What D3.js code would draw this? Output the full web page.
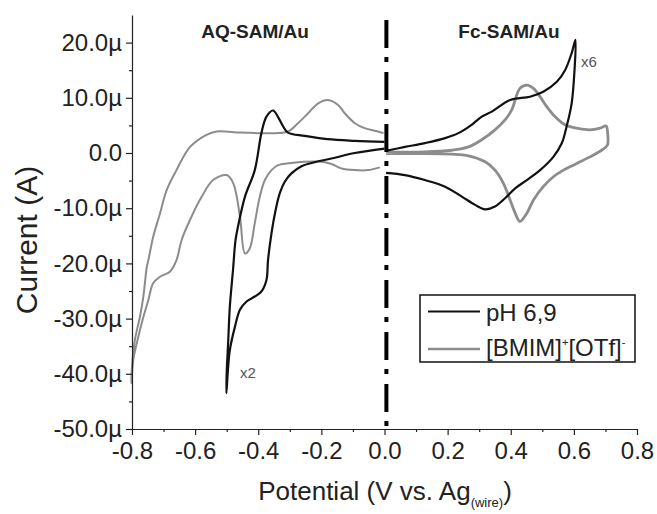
<!DOCTYPE html>
<html>
<head>
<meta charset="utf-8">
<script src="https://cdn.jsdelivr.net/npm/d3@7"></script>
<style>
  body { margin: 0; background: #fff; }
  text { font-family: "Liberation Sans", Arial, sans-serif; }
</style>
</head>
<body>
<svg id="chart" width="657" height="514"></svg>
<script>
// Cyclic voltammograms: potential (V vs. Ag wire), current (µA)
// AQ-SAM/Au in pH 6.9 buffer (scaled x2)
const aqBuffer = [
  [0.0, 0.8], [-0.094, 0.0], [-0.168, -1.0], [-0.231, -1.8], [-0.263, -2.4],
  [-0.295, -3.7], [-0.316, -5.2], [-0.332, -7.3], [-0.347, -10.9], [-0.358, -14.5],
  [-0.369, -19.4], [-0.374, -23.0], [-0.390, -25.1], [-0.411, -26.0], [-0.437, -26.9],
  [-0.458, -28.4], [-0.474, -31.5], [-0.490, -35.7], [-0.496, -39.3], [-0.501, -43.5],
  [-0.500, -39.9], [-0.495, -33.9], [-0.490, -27.8], [-0.480, -21.2], [-0.472, -15.8],
  [-0.463, -13.0], [-0.442, -7.9], [-0.411, -3.1], [-0.390, 3.6], [-0.374, 6.6],
  [-0.353, 7.7], [-0.338, 6.6], [-0.321, 4.8], [-0.306, 3.7], [-0.253, 3.1],
  [-0.180, 2.5], [-0.094, 2.2], [0.0, 2.0]
];
// AQ-SAM/Au in [BMIM]+[OTf]-
const aqIonic = [
  [-0.003, 3.6], [-0.021, 3.9], [-0.063, 4.5], [-0.094, 5.4], [-0.126, 7.2],
  [-0.147, 8.7], [-0.179, 9.6], [-0.210, 9.0], [-0.242, 7.2], [-0.274, 5.4],
  [-0.305, 3.9], [-0.347, 3.6], [-0.400, 3.6], [-0.458, 3.7], [-0.532, 3.9],
  [-0.564, 3.3], [-0.616, 1.1], [-0.659, -3.1], [-0.690, -6.7], [-0.711, -10.9],
  [-0.733, -15.2], [-0.748, -19.4], [-0.753, -20.6], [-0.764, -26.0], [-0.775, -29.7],
  [-0.791, -33.9], [-0.800, -38.7], [-0.802, -41.7],
  [-0.796, -37.5], [-0.780, -33.3], [-0.764, -29.7], [-0.748, -26.6], [-0.733, -23.6],
  [-0.711, -22.4], [-0.680, -21.5], [-0.659, -19.4], [-0.643, -15.8], [-0.616, -12.1],
  [-0.579, -7.9], [-0.543, -4.9], [-0.500, -4.0], [-0.479, -5.5], [-0.458, -11.5],
  [-0.442, -18.2], [-0.427, -17.3], [-0.411, -12.7], [-0.395, -7.9], [-0.379, -4.9],
  [-0.358, -3.1], [-0.337, -2.2], [-0.295, -1.8], [-0.200, -1.6], [-0.168, -2.0],
  [-0.136, -2.8], [-0.094, -3.1], [-0.052, -3.1], [-0.015, -2.6]
];
// Fc-SAM/Au in pH 6.9 buffer (scaled x6)
const fcBuffer = [
  [0.005, -3.6], [0.065, -4.0], [0.128, -4.9], [0.192, -6.1], [0.245, -7.9],
  [0.287, -9.4], [0.319, -10.2], [0.350, -9.7], [0.382, -8.2], [0.414, -6.4],
  [0.451, -4.9], [0.493, -3.1], [0.535, -0.7], [0.562, 1.8], [0.577, 4.8],
  [0.593, 9.0], [0.602, 15.0], [0.605, 20.5],
  [0.593, 18.1], [0.572, 15.0], [0.546, 12.9], [0.503, 11.1], [0.461, 10.2],
  [0.398, 9.6], [0.340, 7.5], [0.308, 6.6], [0.276, 5.1], [0.234, 3.6],
  [0.192, 2.7], [0.128, 1.8], [0.065, 1.1], [0.005, 0.4]
];
// Fc-SAM/Au in [BMIM]+[OTf]-
const fcIonic = [
  [0.005, 0.2], [0.128, 0.2], [0.213, 0.5], [0.266, 1.1], [0.308, 2.4],
  [0.350, 4.2], [0.382, 6.0], [0.403, 7.8], [0.429, 11.7], [0.451, 12.3],
  [0.472, 11.7], [0.493, 10.2], [0.514, 8.4], [0.540, 6.6], [0.572, 5.1],
  [0.609, 4.5], [0.651, 4.2], [0.683, 4.5], [0.702, 4.9],
  [0.707, 3.6], [0.706, 1.4], [0.688, 0.5], [0.651, -0.7], [0.609, -1.9],
  [0.567, -3.1], [0.535, -4.3], [0.503, -6.1], [0.472, -8.5], [0.451, -10.9],
  [0.429, -12.4], [0.414, -10.9], [0.398, -8.5], [0.376, -5.4], [0.350, -3.1],
  [0.319, -1.6], [0.266, -0.5], [0.213, -0.2], [0.107, -0.1], [0.005, -0.1]
];

const xTicks = [-0.8, -0.6, -0.4, -0.2, 0.0, 0.2, 0.4, 0.6, 0.8];
const xMinor = [-0.7, -0.5, -0.3, -0.1, 0.1, 0.3, 0.5, 0.7];
const yTicks = [-50, -40, -30, -20, -10, 0, 10, 20];
const yMinor = [-45, -35, -25, -15, -5, 5, 15];
const seriesNames = ["pH 6,9", "[BMIM]+[OTf]-"];
const panelTitles = ["AQ-SAM/Au", "Fc-SAM/Au"];
const scaleNotes = ["x2", "x6"];

const BLACK = "#111";
const GRAY = "#8c8c8c";

const svg = d3.select("#chart");
const x = d3.scaleLinear().domain([-0.8, 0.8]).range([132, 637]);
const y = d3.scaleLinear().domain([-50, 25]).range([429, 15]);

const line = d3.line()
  .x(d => x(d[0]))
  .y(d => y(d[1]))
  .curve(d3.curveCatmullRom.alpha(0.5));

// Curves
svg.append("path").datum(aqIonic).attr("d", line)
  .attr("fill", "none").attr("stroke", GRAY).attr("stroke-width", 2);
svg.append("path").datum(fcIonic).attr("d", line)
  .attr("fill", "none").attr("stroke", GRAY).attr("stroke-width", 2.8);
svg.append("path").datum(aqBuffer).attr("d", line)
  .attr("fill", "none").attr("stroke", BLACK).attr("stroke-width", 2.2);
svg.append("path").datum(fcBuffer).attr("d", line)
  .attr("fill", "none").attr("stroke", BLACK).attr("stroke-width", 2.2);

// Divider between the two monolayers
svg.append("line")
  .attr("x1", x(0.006)).attr("x2", x(0.006))
  .attr("y1", 20).attr("y2", y(-50))
  .attr("stroke", "#000").attr("stroke-width", 4)
  .attr("stroke-dasharray", "28,9,5,10");

// Axes
const fontAxis = 24;
svg.append("g").attr("transform", `translate(0,${y(-50)})`)
  .call(d3.axisBottom(x).tickValues(xTicks).tickFormat(d => d.toFixed(1))
    .tickSize(6).tickSizeOuter(0).tickPadding(7));
svg.append("g").attr("transform", `translate(0,${y(-50)})`)
  .call(d3.axisBottom(x).tickValues(xMinor).tickFormat("").tickSize(3).tickSizeOuter(0))
  .select(".domain").remove();

svg.append("g").attr("transform", `translate(${x(-0.8)},0)`)
  .call(d3.axisLeft(y).tickValues(yTicks)
    .tickFormat(d => d === 0 ? "0.0" : d.toFixed(1) + "µ")
    .tickSize(6).tickSizeOuter(0).tickPadding(4));
svg.append("g").attr("transform", `translate(${x(-0.8)},0)`)
  .call(d3.axisLeft(y).tickValues(yMinor).tickFormat("").tickSize(3).tickSizeOuter(0))
  .select(".domain").remove();

svg.selectAll(".domain").attr("stroke", "#222").attr("stroke-width", 1.2);
svg.selectAll(".tick line").attr("stroke", "#222").attr("stroke-width", 1.2);
svg.selectAll(".tick text")
  .attr("font-family", "Liberation Sans, Arial, sans-serif")
  .attr("font-size", fontAxis).attr("fill", "#222");

// Axis titles
const xt = svg.append("text")
  .attr("x", 385).attr("y", 500).attr("text-anchor", "middle")
  .attr("font-size", 26).attr("fill", "#222");
xt.append("tspan").text("Potential (V vs. Ag");
xt.append("tspan").attr("dy", 7).attr("font-size", 13).text("(wire)");
xt.append("tspan").attr("dy", -7).text(")");

svg.append("text")
  .attr("transform", "translate(37,240) rotate(-90)")
  .attr("text-anchor", "middle")
  .attr("font-size", 30).attr("fill", "#222")
  .text("Current (A)");

// Panel titles
svg.append("text").attr("x", 255).attr("y", 38).attr("text-anchor", "middle")
  .attr("font-size", 19).attr("font-weight", "bold").attr("fill", "#222")
  .text(panelTitles[0]);
svg.append("text").attr("x", 509).attr("y", 38).attr("text-anchor", "middle")
  .attr("font-size", 19).attr("font-weight", "bold").attr("fill", "#222")
  .text(panelTitles[1]);

// Scaling notes
svg.append("text").attr("x", 240).attr("y", 378)
  .attr("font-size", 15).attr("fill", "#555").text(scaleNotes[0]);
svg.append("text").attr("x", 581).attr("y", 67)
  .attr("font-size", 15).attr("fill", "#555").text(scaleNotes[1]);

// Legend
const lg = svg.append("g");
lg.append("rect").attr("x", 420).attr("y", 295).attr("width", 215).attr("height", 67)
  .attr("fill", "#fff").attr("stroke", "#111").attr("stroke-width", 1.5);
lg.append("line").attr("x1", 428).attr("x2", 480).attr("y1", 311.5).attr("y2", 311.5)
  .attr("stroke", BLACK).attr("stroke-width", 2.2);
lg.append("line").attr("x1", 428).attr("x2", 480).attr("y1", 349).attr("y2", 349)
  .attr("stroke", GRAY).attr("stroke-width", 2.5);
lg.append("text").attr("x", 486).attr("y", 321).attr("font-size", 24).attr("fill", "#222")
  .text(seriesNames[0]);
const lt = lg.append("text").attr("x", 486).attr("y", 356).attr("font-size", 24).attr("fill", "#222");
lt.append("tspan").text("[BMIM]");
lt.append("tspan").attr("dy", -10).attr("font-size", 11).text("+");
lt.append("tspan").attr("dy", 10).text("[OTf]");
lt.append("tspan").attr("dy", -10).attr("font-size", 11).text("-");
</script>
</body>
</html>
